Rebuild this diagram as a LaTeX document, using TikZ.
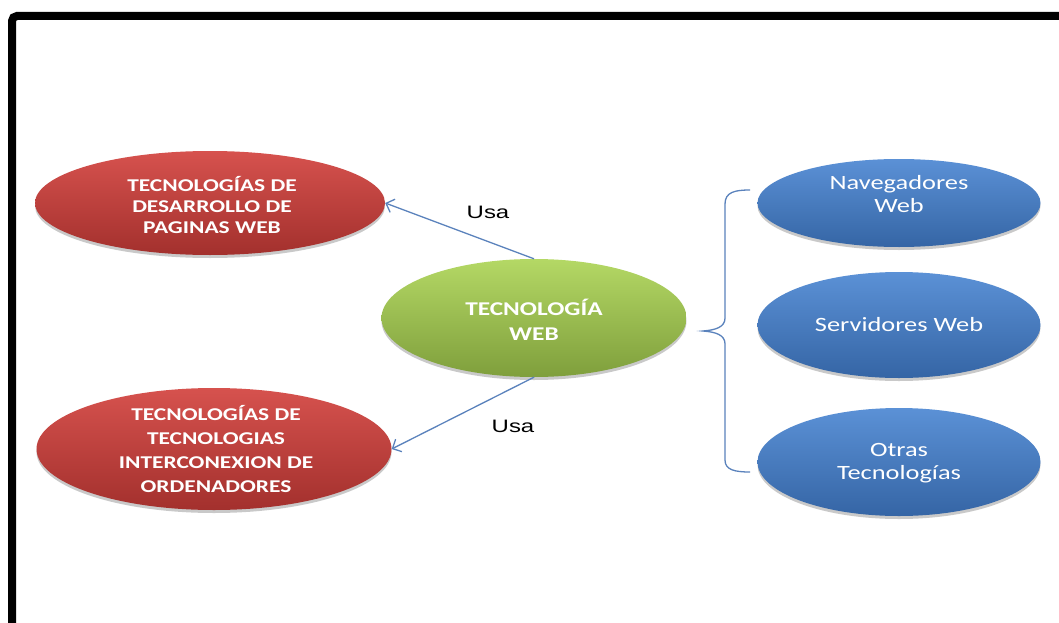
\documentclass[tikz,border=0pt]{standalone}
\usepackage{fontspec}
\usetikzlibrary{shapes.geometric,shadows,arrows.meta}
\newfontfamily\calfont[FakeStretch=1.3]{Carlito}
\newfontfamily\usafont[FakeStretch=1.33]{Liberation Sans}
\definecolor{redTop}{HTML}{D6524E}
\definecolor{redBot}{HTML}{A3302D}
\definecolor{greenTop}{HTML}{B4D865}
\definecolor{greenBot}{HTML}{7F9F3C}
\definecolor{blueTop}{HTML}{5B91D6}
\definecolor{blueBot}{HTML}{3565A5}
\definecolor{lineBlue}{HTML}{5A82BC}
\begin{document}
\begin{tikzpicture}[x=1pt,y=-1pt,
  bubble/.style={ellipse, inner sep=0pt, draw=none,
    drop shadow={opacity=0.35, shadow xshift=0pt, shadow yshift=-3pt, fill=black!60}},
  redbub/.style={bubble, top color=redTop, bottom color=redBot},
  greenbub/.style={bubble, top color=greenTop, bottom color=greenBot},
  bluebub/.style={bubble, top color=blueTop, bottom color=blueBot},
  boldtxt/.style={text=white, align=center, inner sep=0pt,
    font=\calfont\bfseries\fontsize{18}{21}\selectfont},
  plaintxt/.style={text=white, align=center, inner sep=0pt,
    font=\calfont\fontsize{20.3}{23}\selectfont},
  usatxt/.style={text=black, inner sep=0pt, font=\usafont\fontsize{18}{20}\selectfont},
  conn/.style={draw=lineBlue, line width=1.3pt,
    -{Straight Barb[length=7pt,width=14pt,line width=1.3pt]}},
  bracestyle/.style={draw=lineBlue, line width=1.3pt}]
\clip (0,0) rectangle (1059,623);
\fill[white] (0,0) rectangle (1059,623);
\draw[line width=8pt, rounded corners=5pt] (12,16) rectangle (1120,700);

% ellipses
\node[redbub, minimum width=350pt, minimum height=104pt] (redA) at (210,203) {};
\node[redbub, minimum width=355pt, minimum height=122pt] (redB) at (214,449) {};
\node[greenbub, minimum width=305pt, minimum height=118pt] (green) at (534,318) {};
\node[bluebub, minimum width=283pt, minimum height=88pt] (blueA) at (899,203) {};
\node[bluebub, minimum width=283pt, minimum height=106pt] (blueB) at (899,325) {};
\node[bluebub, minimum width=283pt, minimum height=108pt] (blueC) at (899,462) {};

% texts
\node[boldtxt] (tRedA) at (212,205) {TECNOLOGÍAS DE\\DESARROLLO DE\\PAGINAS WEB};
\node[boldtxt, font=\calfont\bfseries\fontsize{18}{24}\selectfont] (tRedB) at (216,449) {TECNOLOGÍAS DE\\TECNOLOGIAS\\INTERCONEXION DE\\ORDENADORES};
\node[boldtxt, font=\calfont\bfseries\fontsize{19.5}{25}\selectfont] (tGreen) at (534,320) {TECNOLOGÍA\\WEB};
\node[plaintxt] (tBlueA) at (899,194) {Navegadores\\Web};
\node[plaintxt] (tBlueB) at (899,325) {Servidores Web};
\node[plaintxt] (tBlueC) at (899,463) {Otras\\Tecnologías};

% connectors
\draw[conn] (green.north) -- (redA.east);
\draw[conn] (green.south) -- (redB.east);
\node[usatxt] (usa1) at (488,212) {Usa};
\node[usatxt] (usa2) at (513,426) {Usa};

% brace
\coordinate (bTop) at (750,190);
\coordinate (bTip) at (703,331);
\coordinate (bBot) at (750,472);
\draw[bracestyle] (bTop) .. controls (735,190) and (725,192) .. (725,204)
  -- (725,318) .. controls (725,327) and (716,330) .. (bTip)
  .. controls (716,332) and (725,335) .. (725,344)
  -- (725,460) .. controls (725,470) and (735,472) .. (bBot);
\end{tikzpicture}
\end{document}
